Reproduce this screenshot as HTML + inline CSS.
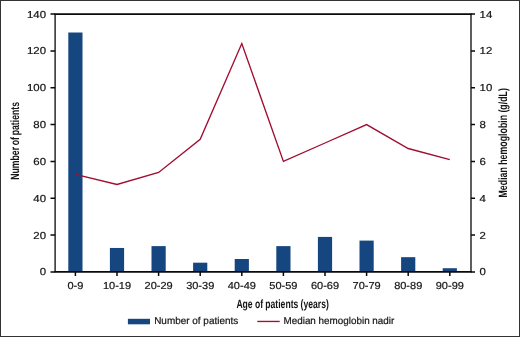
<!DOCTYPE html><html><head><meta charset="utf-8"><title>Chart</title><style>html,body{margin:0;padding:0;background:#fff}svg{display:block}text{text-rendering:geometricPrecision;font-family:"Liberation Sans",sans-serif;fill:#141414}</style></head><body>
<svg width="520" height="337" viewBox="0 0 520 337">
<rect x="0" y="0" width="520" height="337" fill="#fff"/>
<rect x="0.5" y="0.5" width="519" height="336" fill="none" stroke="#333" stroke-width="1"/>
<rect x="68.30" y="32.51" width="14.2" height="239.39" fill="#16467f"/>
<rect x="109.90" y="247.96" width="14.2" height="23.94" fill="#16467f"/>
<rect x="151.50" y="246.12" width="14.2" height="25.78" fill="#16467f"/>
<rect x="193.10" y="262.69" width="14.2" height="9.21" fill="#16467f"/>
<rect x="234.70" y="259.01" width="14.2" height="12.89" fill="#16467f"/>
<rect x="276.30" y="246.12" width="14.2" height="25.78" fill="#16467f"/>
<rect x="317.90" y="236.91" width="14.2" height="34.99" fill="#16467f"/>
<rect x="359.50" y="240.60" width="14.2" height="31.30" fill="#16467f"/>
<rect x="401.10" y="257.17" width="14.2" height="14.73" fill="#16467f"/>
<rect x="442.70" y="268.22" width="14.2" height="3.68" fill="#16467f"/>
<polyline points="75.40,174.30 117.00,184.43 158.60,172.46 200.20,139.32 241.80,43.56 283.40,161.41 325.00,143.00 366.60,124.59 408.20,148.52 449.80,159.57" fill="none" stroke="#a00e30" stroke-width="1.35" stroke-linejoin="miter"/>
<path d="M54.45 14.1H471.65M54.45 271.9H471.65" fill="none" stroke="#0a0a0a" stroke-width="1.6"/>
<path d="M55.1 14.1V271.9M471.0 14.1V271.9" fill="none" stroke="#0a0a0a" stroke-width="1.3"/>
<path d="M50.50 271.90H55.1 M471.0 271.90H475.0 M50.50 235.07H55.1 M471.0 235.07H475.0 M50.50 198.24H55.1 M471.0 198.24H475.0 M50.50 161.41H55.1 M471.0 161.41H475.0 M50.50 124.59H55.1 M471.0 124.59H475.0 M50.50 87.76H55.1 M471.0 87.76H475.0 M50.50 50.93H55.1 M471.0 50.93H475.0 M50.50 14.10H55.1 M471.0 14.10H475.0 M75.40 271.9V275.9 M117.00 271.9V275.9 M158.60 271.9V275.9 M200.20 271.9V275.9 M241.80 271.9V275.9 M283.40 271.9V275.9 M325.00 271.9V275.9 M366.60 271.9V275.9 M408.20 271.9V275.9 M449.80 271.9V275.9" fill="none" stroke="#0a0a0a" stroke-width="1.5"/>
<g font-size="10.1" stroke="#141414" stroke-width="0.2">
<text transform="translate(46 275.45) scale(1.13 1)" text-anchor="end">0</text>
<text transform="translate(479.6 275.45) scale(1.13 1)">0</text>
<text transform="translate(46 238.62) scale(1.13 1)" text-anchor="end">20</text>
<text transform="translate(479.6 238.62) scale(1.13 1)">2</text>
<text transform="translate(46 201.79) scale(1.13 1)" text-anchor="end">40</text>
<text transform="translate(479.6 201.79) scale(1.13 1)">4</text>
<text transform="translate(46 164.96) scale(1.13 1)" text-anchor="end">60</text>
<text transform="translate(479.6 164.96) scale(1.13 1)">6</text>
<text transform="translate(46 128.14) scale(1.13 1)" text-anchor="end">80</text>
<text transform="translate(479.6 128.14) scale(1.13 1)">8</text>
<text transform="translate(46 91.31) scale(1.13 1)" text-anchor="end">100</text>
<text transform="translate(479.6 91.31) scale(1.13 1)">10</text>
<text transform="translate(46 54.48) scale(1.13 1)" text-anchor="end">120</text>
<text transform="translate(479.6 54.48) scale(1.13 1)">12</text>
<text transform="translate(46 17.65) scale(1.13 1)" text-anchor="end">140</text>
<text transform="translate(479.6 17.65) scale(1.13 1)">14</text>
<text transform="translate(75.40 289.3) scale(1.09 1)" text-anchor="middle">0-9</text>
<text transform="translate(117.00 289.3) scale(1.09 1)" text-anchor="middle">10-19</text>
<text transform="translate(158.60 289.3) scale(1.09 1)" text-anchor="middle">20-29</text>
<text transform="translate(200.20 289.3) scale(1.09 1)" text-anchor="middle">30-39</text>
<text transform="translate(241.80 289.3) scale(1.09 1)" text-anchor="middle">40-49</text>
<text transform="translate(283.40 289.3) scale(1.09 1)" text-anchor="middle">50-59</text>
<text transform="translate(325.00 289.3) scale(1.09 1)" text-anchor="middle">60-69</text>
<text transform="translate(366.60 289.3) scale(1.09 1)" text-anchor="middle">70-79</text>
<text transform="translate(408.20 289.3) scale(1.09 1)" text-anchor="middle">80-89</text>
<text transform="translate(449.80 289.3) scale(1.09 1)" text-anchor="middle">90-99</text>
</g>
<text font-size="12" font-weight="bold" word-spacing="-0.9" transform="translate(19 179.7) rotate(-90)" textLength="77.7" lengthAdjust="spacingAndGlyphs">Number of patients</text>
<text font-size="12" font-weight="bold" word-spacing="-0.2" transform="translate(507.4 197.5) rotate(-90)" textLength="109.4" lengthAdjust="spacingAndGlyphs">Median hemoglobin (g/dL)</text>
<text font-size="12" font-weight="bold" word-spacing="-0.2" x="236.4" y="307.6" textLength="92.4" lengthAdjust="spacingAndGlyphs">Age of patients (years)</text>
<rect x="127.9" y="318.8" width="22.1" height="5.5" fill="#16467f"/>
<text font-size="10" stroke="#141414" stroke-width="0.2" x="154.2" y="324.4" textLength="84" lengthAdjust="spacingAndGlyphs">Number of patients</text>
<path d="M257.3 321.45H279.7" stroke="#a00e30" stroke-width="1.35" fill="none"/>
<text font-size="10" stroke="#141414" stroke-width="0.2" x="283.5" y="324.4" textLength="110.8" lengthAdjust="spacingAndGlyphs">Median hemoglobin nadir</text>
</svg></body></html>
